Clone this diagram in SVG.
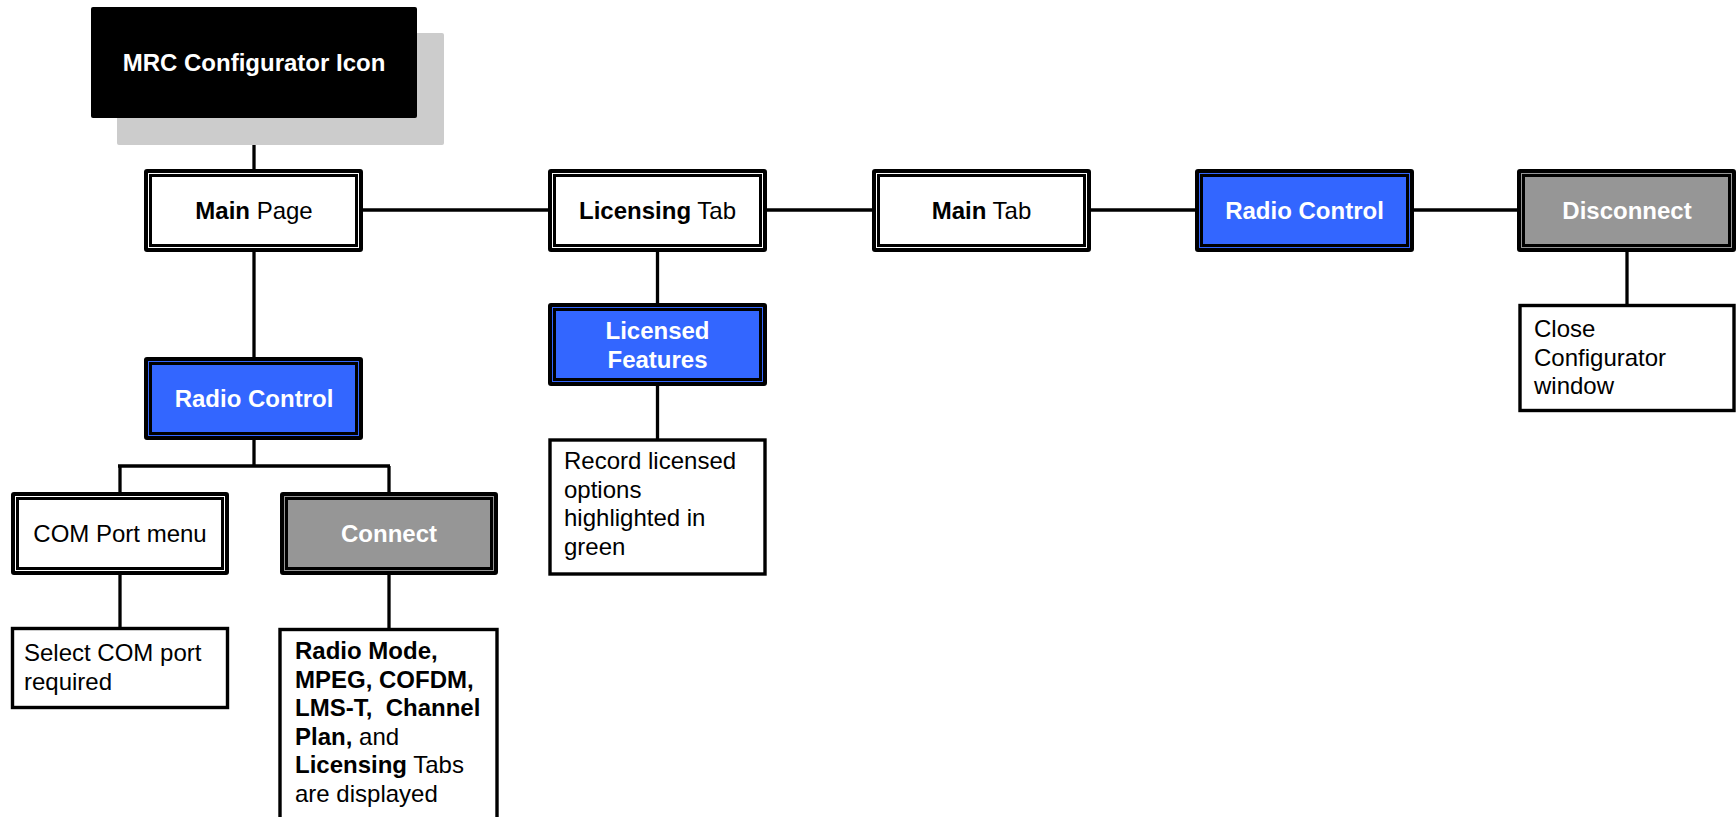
<svg xmlns="http://www.w3.org/2000/svg" width="1736" height="817" viewBox="0 0 1736 817">
<style>
text{font-family:"Liberation Sans",Arial,sans-serif;font-size:24px;fill:#000}
.c{text-anchor:middle}
.b{font-weight:bold}
.w{fill:#fff}
.o{stroke:#000;stroke-width:4}
.i{fill:none;stroke:#000;stroke-width:3}
.s{stroke:#000;stroke-width:3.4;fill:#fff}
.conn line{stroke:#000;stroke-width:3.3}
.white{fill:#fff}.blue{fill:#3366ff}.grey{fill:#969696}
</style>
<g class="conn">
<line x1="254" y1="117" x2="254" y2="170"/>
<line x1="362" y1="210" x2="549" y2="210"/>
<line x1="766" y1="210" x2="873" y2="210"/>
<line x1="1090" y1="210" x2="1196" y2="210"/>
<line x1="1413" y1="210" x2="1518" y2="210"/>
<line x1="254" y1="251" x2="254" y2="358"/>
<line x1="254" y1="439" x2="254" y2="466"/>
<line x1="118" y1="466" x2="390" y2="466"/>
<line x1="120" y1="466" x2="120" y2="493"/>
<line x1="389" y1="466" x2="389" y2="493"/>
<line x1="120" y1="574" x2="120" y2="628"/>
<line x1="389" y1="574" x2="389" y2="629"/>
<line x1="657.5" y1="251" x2="657.5" y2="304"/>
<line x1="657.5" y1="385" x2="657.5" y2="439"/>
<line x1="1627" y1="251" x2="1627" y2="305"/>
</g>
<g id="mrc">
<rect x="117" y="33" width="327" height="112" rx="2" fill="#cccccc"/>
<rect x="91" y="7" width="326" height="111" rx="2" fill="#000"/>
<text x="254" y="71" class="c b w">MRC Configurator Icon</text>
</g>
<g id="mainpage">
<rect x="146" y="171" width="215" height="79" rx="1" class="o white"/>
<rect x="150.5" y="175.5" width="206" height="70" class="i"/>
<text x="254" y="218.5" class="c"><tspan class="b">Main</tspan> Page</text>
</g>
<g id="licensingtab">
<rect x="550" y="171" width="215" height="79" rx="1" class="o white"/>
<rect x="554.5" y="175.5" width="206" height="70" class="i"/>
<text x="657.5" y="218.5" class="c"><tspan class="b">Licensing</tspan> Tab</text>
</g>
<g id="maintab">
<rect x="874" y="171" width="215" height="79" rx="1" class="o white"/>
<rect x="878.5" y="175.5" width="206" height="70" class="i"/>
<text x="981.5" y="218.5" class="c"><tspan class="b">Main</tspan> Tab</text>
</g>
<g id="radiocontrol2">
<rect x="1197" y="171" width="215" height="79" rx="1" class="o blue"/>
<rect x="1201.5" y="175.5" width="206" height="70" class="i"/>
<text x="1304.5" y="218.5" class="c b w">Radio Control</text>
</g>
<g id="disconnect">
<rect x="1519" y="171" width="215" height="79" rx="1" class="o grey"/>
<rect x="1523.5" y="175.5" width="206" height="70" class="i"/>
<text x="1627" y="218.5" class="c b w">Disconnect</text>
</g>
<g id="licensedfeatures">
<rect x="550" y="305" width="215" height="79" rx="1" class="o blue"/>
<rect x="554.5" y="309.5" width="206" height="70" class="i"/>
<text x="657.5" y="339" class="c b w">Licensed</text>
<text x="657.5" y="367.5" class="c b w">Features</text>
</g>
<g id="record">
<rect x="550" y="440" width="215" height="134" class="s"/>
<text x="564" y="469">Record licensed</text>
<text x="564" y="497.5">options</text>
<text x="564" y="526">highlighted in</text>
<text x="564" y="554.5">green</text>
</g>
<g id="close">
<rect x="1520" y="305.5" width="214" height="105" class="s"/>
<text x="1534" y="337">Close</text>
<text x="1534" y="365.5">Configurator</text>
<text x="1534" y="394">window</text>
</g>
<g id="radiocontrol1">
<rect x="146" y="359" width="215" height="79" rx="1" class="o blue"/>
<rect x="150.5" y="363.5" width="206" height="70" class="i"/>
<text x="254" y="407" class="c b w">Radio Control</text>
</g>
<g id="comport">
<rect x="13" y="494" width="214" height="79" rx="1" class="o white"/>
<rect x="17.5" y="498.5" width="205" height="70" class="i"/>
<text x="120" y="542" class="c">COM Port menu</text>
</g>
<g id="connect">
<rect x="282" y="494" width="214" height="79" rx="1" class="o grey"/>
<rect x="286.5" y="498.5" width="205" height="70" class="i"/>
<text x="389" y="542" class="c b w">Connect</text>
</g>
<g id="selectcom">
<rect x="12.5" y="628.5" width="215" height="79" class="s"/>
<text x="24" y="661">Select COM port</text>
<text x="24" y="689.5">required</text>
</g>
<g id="radiomode">
<rect x="280" y="629.5" width="217" height="200" class="s"/>
<text x="295" y="659"><tspan class="b">Radio Mode,</tspan></text>
<text x="295" y="687.5"><tspan class="b">MPEG, COFDM,</tspan></text>
<text x="295" y="716"><tspan class="b">LMS-T,&#160; Channel</tspan></text>
<text x="295" y="744.5"><tspan class="b">Plan,</tspan> and</text>
<text x="295" y="773"><tspan class="b">Licensing</tspan> Tabs</text>
<text x="295" y="801.5">are displayed</text>
</g>
</svg>
